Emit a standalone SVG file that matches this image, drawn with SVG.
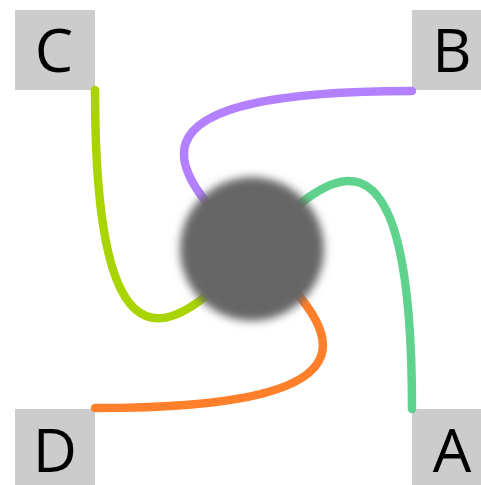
<svg xmlns="http://www.w3.org/2000/svg" width="481" height="485" viewBox="0 0 481 485">
<style>
.box{fill:#cccccc}
.lbl{font-family:"Open Sans","Liberation Sans",sans-serif;font-size:61px;fill:#000;text-anchor:middle}
.link{fill:none;stroke-width:8.5;stroke-linecap:round}
</style>
<defs>
<filter id="blur" x="-30%" y="-30%" width="160%" height="160%">
<feGaussianBlur stdDeviation="4"/>
</filter>
</defs>
<g id="node-C"><rect class="box" x="15" y="10" width="80" height="80"/><text class="lbl" x="54" y="72">C</text></g>
<g id="node-B"><rect class="box" x="412" y="10" width="80" height="80"/><text class="lbl" x="452" y="72">B</text></g>
<g id="node-D"><rect class="box" x="15" y="409" width="80" height="76"/><text class="lbl" x="55" y="472">D</text></g>
<g id="node-A"><rect class="box" x="412" y="409" width="80" height="76"/><text class="lbl" x="452" y="472">A</text></g>
<g id="connectors">
<path class="link" stroke="#aad400" d="M95,90 C95,400 180,330 253,250"/>
<path class="link" stroke="#b380ff" d="M412,91 C102,91 172,176 253,250"/>
<path class="link" stroke="#5fd38d" d="M412,409 C412,99 327,169 253,250"/>
<path class="link" stroke="#ff7f2a" d="M95,408 C405,408 335,323 253,250"/>
</g>
<g id="node-center"><circle cx="252" cy="249" r="72" fill="#666666" filter="url(#blur)"/></g>
</svg>
